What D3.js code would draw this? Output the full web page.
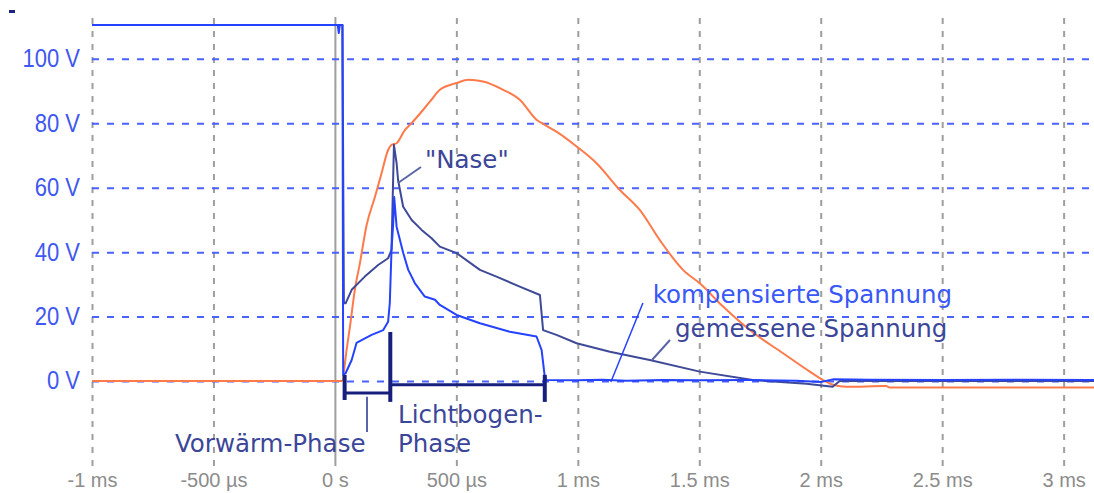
<!DOCTYPE html>
<html>
<head>
<meta charset="utf-8">
<script src="https://cdn.jsdelivr.net/npm/d3@7"></script>
<style>
  body { margin: 0; background: #fff; }
  svg { display: block; }
</style>
</head>
<body>
<svg id="chart" width="1094" height="493"></svg>
<script>
// Axis ticks
const timeTicks = [-1, -0.5, 0, 0.5, 1, 1.5, 2, 2.5, 3];            // ms
const timeTickLabels = ["-1 ms", "-500 µs", "0 s", "500 µs", "1 ms", "1.5 ms", "2 ms", "2.5 ms", "3 ms"];
const voltTicks = [0, 20, 40, 60, 80, 100];                          // V
const voltTickLabels = ["0 V", "20 V", "40 V", "60 V", "80 V", "100 V"];

// Orange trace (time in ms, value in V)
const orangeT = [-1, 0.029, 0.048, 0.062, 0.082, 0.103, 0.130, 0.165, 0.192, 0.219, 0.233, 0.254, 0.288, 0.309,
  0.391, 0.432, 0.501, 0.549, 0.610, 0.693, 0.761, 0.830, 0.864, 0.912, 0.995, 1.077, 1.173, 1.255, 1.337,
  1.433, 1.502, 1.598, 1.708, 1.845, 1.955, 2.009, 2.051, 2.106, 2.270, 2.284, 3.125];
const orangeV = [0, 0, 9.6, 16.9, 28.3, 36.6, 48.2, 57.2, 64.5, 71.7, 73.3, 73.8, 77.9, 79.5,
  86.7, 90.4, 92.5, 93.5, 93.0, 90.4, 87.3, 81.1, 79.5, 77.4, 72.8, 67.6, 59.3, 53.1, 43.8,
  34.5, 30.3, 23.1, 15.8, 8.6, 2.9, 0.3, -1.2, -1.8, -1.6, -2.0, -2.0];

// Measured voltage ("gemessene Spannung")
const measuredT = [-1, 0.031, 0.037, 0.044, 0.069, 0.123, 0.178, 0.219, 0.233, 0.243, 0.254, 0.260, 0.281, 0.316,
  0.357, 0.398, 0.432, 0.501, 0.597, 0.665, 0.761, 0.844, 0.857, 0.912, 0.995, 1.132, 1.296, 1.502, 1.720,
  1.941, 2.049, 2.078, 3.125];
const measuredV = [110.5, 110.5, 24.1, 24.1, 28.3, 32.4, 36.0, 38.1, 40.7, 73.3, 67.6, 62.4, 54.1, 50.0,
  46.9, 44.3, 41.7, 39.7, 34.5, 32.4, 29.3, 26.7, 15.8, 14.3, 11.7, 9.1, 6.5, 2.9, 0.3,
  -0.9, -1.8, 0, 0];

// Compensated voltage ("kompensierte Spannung")
const compensatedT = [-1, 0.012, 0.016, 0.020, 0.031, 0.034, 0.044, 0.069, 0.089, 0.110, 0.151, 0.199, 0.219, 0.226,
  0.233, 0.240, 0.244, 0.254, 0.281, 0.302, 0.329, 0.370, 0.412, 0.432, 0.501, 0.597, 0.720, 0.830,
  0.851, 0.864, 0.871, 1.0, 1.1, 1.2, 1.35, 1.5, 1.7, 1.9, 2.0, 2.05, 2.2, 2.5, 2.8, 3.125];
const compensatedV = [110.5, 110.5, 108.0, 110.5, 110.5, 1.9, 2.4, 6.5, 11.8, 12.7, 14.3, 15.8, 18.4, 24.2,
  40.7, 49.0, 57.1, 47.9, 39.8, 34.5, 30.4, 26.2, 25.2, 23.6, 20.5, 17.9, 15.3, 13.8,
  9.6, 1.3, 0.3, 0.2, 0.4, 0.1, 0.3, 0.2, 0.3, 0.1, -0.3, 0.5, 0.4, 0.3, 0.4, 0.3];

// Phase boundaries (ms): start of preheating, arc ignition, arc end
const phaseBounds = [0.04, 0.228, 0.864];

const svg = d3.select("#chart");
const plotLeft = 92, plotRight = 1094, plotTop = 17, plotBottom = 466;

const x = d3.scaleLinear().domain([-1, 3.125]).range([plotLeft, plotRight]);
const y = d3.scaleLinear().domain([-26.4, 113]).range([plotBottom, plotTop]);

// small marker in the corner
svg.append("rect").attr("x", 9).attr("y", 10).attr("width", 6).attr("height", 3).attr("fill", "#1c2480");

// vertical grid (time)
const xGrid = svg.append("g").attr("transform", `translate(0,${plotBottom})`)
  .call(d3.axisBottom(x).tickValues(timeTicks).tickSize(-(plotBottom - plotTop)).tickFormat(""));
xGrid.select(".domain").remove();
xGrid.selectAll(".tick line")
  .attr("stroke", "#9e9e9e")
  .attr("stroke-width", 2)
  .attr("stroke-dasharray", d => d === 0 ? null : "6,7");

// horizontal grid (voltage)
const yGrid = svg.append("g").attr("transform", `translate(${plotLeft},0)`)
  .call(d3.axisLeft(y).tickValues(voltTicks).tickSize(-(plotRight - plotLeft)).tickFormat(""));
yGrid.select(".domain").remove();
yGrid.selectAll(".tick line")
  .attr("stroke", "#4a62ff")
  .attr("stroke-width", 2)
  .attr("stroke-dasharray", "7,8");

// y labels (narrowed horizontally)
const labelSqueeze = 0.88;
const yAxis = svg.append("g").attr("transform", `translate(${plotLeft},0)`)
  .call(d3.axisLeft(y).tickValues(voltTicks).tickSize(0).tickPadding(12)
    .tickFormat((d, i) => voltTickLabels[i]));
yAxis.select(".domain").remove();
yAxis.selectAll("text")
  .attr("x", -12 / labelSqueeze)
  .attr("transform", `scale(${labelSqueeze},1)`)
  .attr("fill", "#4058f0")
  .style("font-family", "'Liberation Sans', Arial, sans-serif")
  .style("font-size", "25px");

// x labels
const xAxis = svg.append("g").attr("transform", `translate(0,${plotBottom})`)
  .call(d3.axisBottom(x).tickValues(timeTicks).tickSize(0)
    .tickFormat((d, i) => timeTickLabels[i]));
xAxis.select(".domain").remove();
xAxis.selectAll("text")
  .attr("y", 21).attr("dy", "0")
  .attr("fill", "#8c8c8c")
  .style("font-family", "'Liberation Sans', Arial, sans-serif")
  .style("font-size", "20px");

// traces
function trace(ts, vs, color, curve) {
  const line = d3.line().x(d => x(d[0])).y(d => y(d[1])).curve(curve || d3.curveLinear);
  svg.append("path")
    .datum(ts.map((t, i) => [t, vs[i]]))
    .attr("d", line)
    .attr("fill", "none")
    .attr("stroke", color)
    .attr("stroke-width", 2)
    .attr("stroke-linejoin", "round");
}
trace(orangeT, orangeV, "#ff7a4a", d3.curveMonotoneX);
trace(measuredT, measuredV, "#3e4a98");
trace(compensatedT, compensatedV, "#2442ff");

// phase brackets
const bracketColor = "#16207c";
const seg = (x1, y1, x2, y2, w, c) => svg.append("line")
  .attr("x1", x1).attr("y1", y1).attr("x2", x2).attr("y2", y2)
  .attr("stroke", c).attr("stroke-width", w);
seg(x(phaseBounds[0]), y(1.9), x(phaseBounds[0]), y(-5.9), 4, bracketColor);
seg(x(phaseBounds[0]), y(-3.7), x(phaseBounds[1]), y(-3.7), 3, bracketColor);
seg(x(phaseBounds[1]), y(15.2), x(phaseBounds[1]), y(-6.5), 4, bracketColor);
seg(x(phaseBounds[1]), y(-1.2), x(phaseBounds[2]), y(-1.2), 3, bracketColor);
seg(x(phaseBounds[2]), y(1.9), x(phaseBounds[2]), y(-6.5), 4, bracketColor);

// annotations
const noteColor = "#3b4699";
const noteFont = "'DejaVu Sans', Verdana, sans-serif";
function note(txt, tx, ty, color, anchor) {
  svg.append("text").attr("x", tx).attr("y", ty)
    .attr("fill", color)
    .attr("text-anchor", anchor || "start")
    .style("font-family", noteFont)
    .style("font-size", "24.5px")
    .text(txt);
}
// leader lines
seg(367, y(-4.9), 367, 432, 2, "#5a64a8");
seg(421, 167, 398, 183, 2, "#5a64a8");
seg(x(1.136), y(-0.3), x(1.268), y(24.2), 1.5, "#2442ff");
seg(652, 360, 670, 340, 2, "#5a64a8");

note("\"Nase\"", 425, 168, noteColor);
note("Vorwärm-Phase", 175, 452, noteColor);
note("Lichtbogen-", 398, 423, noteColor);
note("Phase", 398, 452, noteColor);
note("kompensierte Spannung", 952, 303, "#3a58f8", "end");
note("gemessene Spannung", 675, 337, noteColor);
</script>
</body>
</html>
